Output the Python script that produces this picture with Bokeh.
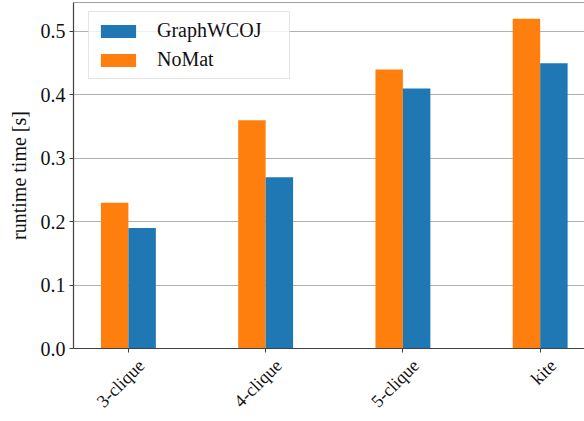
import numpy as np
from bokeh.plotting import figure
from bokeh.models import (ColumnDataSource, FixedTicker, Legend, LegendItem,
                          Range1d, Span, NumeralTickFormatter, LinearAxis)
from bokeh.embed import file_html
from bokeh.resources import INLINE

categories = ["3-clique", "4-clique", "5-clique", "kite"]
nomat = [0.23, 0.36, 0.44, 0.52]
graphwcoj = [0.19, 0.27, 0.41, 0.45]
y_ticks = [0.0, 0.1, 0.2, 0.3, 0.4, 0.5]

ORANGE = "#ff7f0e"
BLUE = "#1f77b4"
SPINE = "#404040"
FONT = "Liberation Serif"
FS = "20px"
FS_X = "18px"
BAR_W = 0.2
X0, X1 = -0.4, 3.323
LABEL_SHIFT = 0.095  # shift of rotated labels, in category units

x = np.arange(len(categories))
src = ColumnDataSource(dict(
    x_nomat=x - BAR_W / 2,
    x_gw=x + BAR_W / 2,
    nomat=nomat,
    gw=graphwcoj,
))

p = figure(width=584, height=421, output_backend="svg", toolbar_location=None,
           x_range=Range1d(X0, X1), y_range=Range1d(0, 0.5456),
           x_axis_location=None,
           min_border_left=73, min_border_right=0, min_border_top=2,
           min_border_bottom=72)
p.extra_x_ranges = {"lab": Range1d(X0 - LABEL_SHIFT, X1 - LABEL_SHIFT)}

r_nomat = p.vbar(x="x_nomat", top="nomat", width=BAR_W, source=src,
                 fill_color=ORANGE, line_color=None)
r_gw = p.vbar(x="x_gw", top="gw", width=BAR_W, source=src,
              fill_color=BLUE, line_color=None)

p.outline_line_color = None
p.xgrid.visible = False
p.ygrid.grid_line_color = "#b0b0b0"
p.ygrid.grid_line_width = 1.1

top_spine = Span(location=p.y_range.end, dimension="width",
                 line_color=SPINE, line_width=1.2)
p.add_layout(top_spine)

yax = p.yaxis[0]
yax.axis_line_color = SPINE
yax.axis_line_width = 1.2
yax.major_tick_line_color = SPINE
yax.major_tick_out = 4
yax.major_tick_in = 0
yax.minor_tick_line_color = None
yax.major_label_text_font = FONT
yax.major_label_text_font_size = FS
yax.major_label_text_color = "#111111"
yax.ticker = FixedTicker(ticks=y_ticks)
yax.formatter = NumeralTickFormatter(format="0.0")
yax.axis_label = "runtime time [s]"
yax.axis_label_text_font = FONT
yax.axis_label_text_font_size = FS
yax.axis_label_text_font_style = "normal"
yax.axis_label_text_color = "#111111"
yax.axis_label_standoff = 8
yax.major_label_standoff = 4

# single bottom axis on a shifted range: labels sit centred under the bars like
# matplotlib's rotated labels; the visible tick marks (minor ticks) are placed
# at the true category positions.
lab_axis = LinearAxis(x_range_name="lab",
                      ticker=FixedTicker(ticks=list(x),
                                         minor_ticks=list(x - LABEL_SHIFT)),
                      major_label_overrides={int(i): c for i, c in zip(x, categories)},
                      major_label_orientation=np.pi / 4,
                      major_label_text_font=FONT, major_label_text_font_size=FS_X,
                      major_label_text_color="#111111",
                      major_label_standoff=10,
                      axis_line_color=SPINE, axis_line_width=1.2,
                      major_tick_line_color=None, major_tick_out=4, major_tick_in=0,
                      minor_tick_line_color=SPINE, minor_tick_out=4, minor_tick_in=0)
p.add_layout(lab_axis, "below")

legend = Legend(items=[LegendItem(label="GraphWCOJ", renderers=[r_gw]),
                       LegendItem(label="NoMat", renderers=[r_nomat])],
                location=(15, 269))
legend.label_text_font = FONT
legend.label_text_font_size = FS
legend.label_text_color = "#111111"
legend.glyph_width = 44
legend.glyph_height = 16
legend.label_height = 16
legend.label_width = 125
legend.label_standoff = 17
legend.spacing = 6
legend.padding = 7
legend.margin = 0
legend.border_line_color = "#cccccc"
legend.border_line_width = 1
legend.background_fill_alpha = 0.8
p.add_layout(legend, "center")

open("out.html", "w").write(file_html(p, INLINE))
